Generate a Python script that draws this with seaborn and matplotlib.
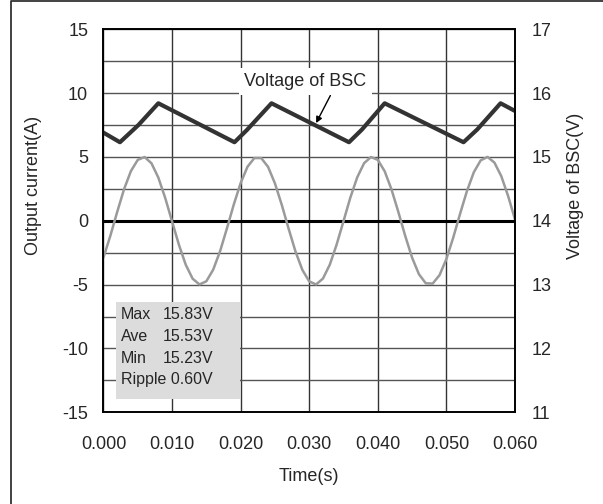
"""
BSC voltage ripple vs output current, two y axes
"""

import numpy as np
import pandas as pd
import matplotlib
matplotlib.use("Agg")
import matplotlib.pyplot as plt
import seaborn as sns
from matplotlib.patches import Rectangle
from matplotlib.lines import Line2D
from matplotlib.ticker import FormatStrFormatter, MultipleLocator

time_i = [i * 0.001 for i in range(61)]
current = [-2.88, -1.18, 0.69, 2.47, 3.89, 4.77, 4.99, 4.50, 3.38, 1.79,
           -0.05, -1.88, -3.45, -4.54, -4.99, -4.74, -3.83, -2.39, -0.60, 1.27,
           2.95, 4.23, 4.91, 4.91, 4.22, 2.93, 1.24, -0.63, -2.41, -3.85,
           -4.75, -4.99, -4.53, -3.44, -1.86, -0.03, 1.82, 3.40, 4.51, 4.99,
           4.77, 3.88, 2.45, 0.68, -1.19, -2.89, -4.19, -4.90, -4.92, -4.26,
           -3.00, -1.32, 0.55, 2.33, 3.80, 4.73, 5.00, 4.56, 3.50, 1.94, 0.11]

# BSC voltage, corner points of the sawtooth
time_v = [0.0, 0.0024, 0.0051, 0.0080, 0.0191, 0.0209, 0.0245, 0.0358,
          0.0377, 0.0410, 0.0525, 0.0545, 0.0579, 0.060]
voltage = [15.38, 15.23, 15.50, 15.84, 15.23, 15.42, 15.84, 15.23,
           15.43, 15.84, 15.23, 15.43, 15.84, 15.72]

stat_names = ["Max", "Ave", "Min"]
stat_values = ["15.83V", "15.53V", "15.23V"]
ripple_text = "Ripple 0.60V"

x_ticks = [0.0, 0.01, 0.02, 0.03, 0.04, 0.05, 0.06]
y_ticks_left = [-15, -10, -5, 0, 5, 10, 15]
y_ticks_right = [11, 12, 13, 14, 15, 16, 17]

df_i = pd.DataFrame({"t": time_i, "i": current})
df_v = pd.DataFrame({"t": time_v, "v": voltage})

sns.set_style("white")
plt.rcParams["font.family"] = ["Liberation Sans", "DejaVu Sans"]
plt.rcParams["axes.unicode_minus"] = False

fig = plt.figure(figsize=(6.03, 5.04), dpi=100)
ax = fig.add_axes([0.1716, 0.182, 0.6824, 0.760])
ax2 = ax.twinx()

# grid
ax.set_xlim(0, 0.06)
ax.set_ylim(-15, 15)
ax2.set_ylim(11, 17)
ax.set_xticks(x_ticks)
ax.set_yticks(y_ticks_left)
ax2.set_yticks(y_ticks_right)
ax.yaxis.set_minor_locator(MultipleLocator(2.5))
ax.xaxis.set_major_formatter(FormatStrFormatter("%.3f"))
ax.grid(True, which="both", axis="y", color="#555555", lw=1.0)
ax.grid(True, which="major", axis="x", color="#333333", lw=1.0)
ax.axhline(0, color="black", lw=2.2, zorder=1.5)

sns.lineplot(data=df_i, x="t", y="i", ax=ax, color="#9a9a9a", lw=1.8)
sns.lineplot(data=df_v, x="t", y="v", ax=ax2, color="#333333", lw=3.0)

for a in (ax, ax2):
    for s in a.spines.values():
        s.set_color("black")
        s.set_linewidth(1.2)
    a.tick_params(axis="both", which="both", length=0, labelsize=13)
ax.tick_params(axis="x", pad=17)
ax.tick_params(axis="y", pad=11)
ax2.tick_params(axis="y", pad=12)

ax.set_xlabel("Time(s)", fontsize=13)
ax.set_ylabel("Output current(A)", fontsize=13)
ax2.set_ylabel("Voltage of BSC(V)", fontsize=13)
ax.xaxis.label.set_va("center")
ax.xaxis.set_label_coords(0.5, -0.168)
ax.yaxis.label.set_va("center")
ax.yaxis.set_label_coords(-0.171, 0.591)
ax2.yaxis.label.set_va("center")
ax2.yaxis.set_label_coords(1.146, 0.591)

# annotation
ax2.annotate("Voltage of BSC", xy=(0.0310, 15.53), xytext=(0.0294, 16.18),
             ha="center", va="center", fontsize=13,
             bbox=dict(boxstyle="square,pad=0.3", fc="white", ec="none"),
             arrowprops=dict(arrowstyle="-|>", color="black", lw=1.0,
                             relpos=(0.73, 0.0), shrinkA=0, shrinkB=0,
                             mutation_scale=9))

# stats box
ax2.add_patch(Rectangle((0.0304, 0.0347), 0.3013, 0.2533, transform=ax.transAxes,
                        facecolor="#dcdcdc", edgecolor="none", zorder=3))
rows_y = [0.254, 0.1977, 0.1412]
for name, val, yy in zip(stat_names, stat_values, rows_y):
    ax2.text(0.0418, yy, name, transform=ax.transAxes, fontsize=11.5,
             va="center", ha="left", zorder=4)
    ax2.text(0.1439, yy, val, transform=ax.transAxes, fontsize=11.5,
             va="center", ha="left", zorder=4)
ax2.text(0.0418, 0.0843, ripple_text, transform=ax.transAxes, fontsize=11.5,
         va="center", ha="left", zorder=4)

# outer frame (cropped screenshot, only left and top edge visible)
fig.add_artist(Line2D([10.5 / 603, 10.5 / 603, 1.0], [0.0, 1 - 1 / 504, 1 - 1 / 504],
                      transform=fig.transFigure, color="#333333", lw=1.3))

fig.savefig("out.png", dpi=100)
